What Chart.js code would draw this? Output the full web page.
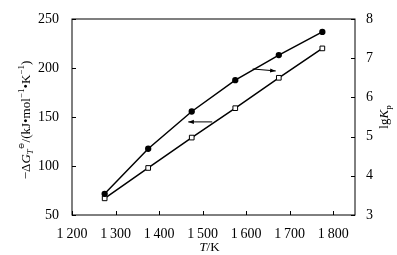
<!DOCTYPE html>
<html lang="en">
<head>
  <meta charset="UTF-8" />
  <title>ΔG and lgKp vs T</title>
  <script src="https://cdn.jsdelivr.net/npm/chart.js"></script>
  <style>
    body { margin: 0; background: #fff; }
    .wrap { width: 397px; height: 255px; position: relative; }
  </style>
</head>
<body>
  <div class="wrap"><canvas id="c"></canvas></div>

  <script>
    // temperatures, K
    const temps = [1275, 1375, 1475, 1575, 1675, 1775];
    // -dG (left axis), open squares
    const dG = [67, 98, 129, 159, 190, 220];
    // lgKp (right axis), filled circles
    const lgKp = [3.54, 4.69, 5.64, 6.44, 7.08, 7.67];

    const xTicks = [1200, 1300, 1400, 1500, 1600, 1700, 1800];
    const leftTicks = [50, 100, 150, 200, 250];
    const rightTicks = [3, 4, 5, 6, 7, 8];

    // arrows: [x0, y0, x1, y1] in data units (left axis)
    const arrowLeft = [1522, 145, 1467, 145];
    const arrowRight = [1615, 199, 1668, 197];

    const serif = '"Liberation Serif", "DejaVu Serif", serif';

    function fmt(v) {
      const s = String(v);
      return s.length > 3 ? s.slice(0, 1) + '\u2009' + s.slice(1) : s;
    }

    function keepTicks(list) {
      return scale => { scale.ticks = list.map(v => ({ value: v })); };
    }

    // rich text (pieces with italic / sub / sup), centered at 0,0
    function drawRich(ctx, parts) {
      let w = 0;
      parts.forEach(p => {
        ctx.font = (p.it ? 'italic ' : '') + (p.size || 13) + 'px ' + serif;
        p.w = ctx.measureText(p.t).width;
        w += p.w;
      });
      let x = -w / 2;
      parts.forEach(p => {
        ctx.font = (p.it ? 'italic ' : '') + (p.size || 13) + 'px ' + serif;
        ctx.fillText(p.t, x, p.dy || 0);
        x += p.w;
      });
    }

    const extras = {
      id: 'extras',
      afterDraw(chart) {
        const { ctx, chartArea: a, scales } = chart;
        const x = scales.x, yl = scales.y, yr = scales.y1;
        ctx.save();
        ctx.strokeStyle = '#000';
        ctx.lineWidth = 1;
        ctx.strokeRect(a.left, a.top, a.right - a.left, a.bottom - a.top);

        // inward tick marks
        ctx.beginPath();
        xTicks.forEach(v => {
          const px = Math.round(x.getPixelForValue(v)) + 0.5;
          ctx.moveTo(px, a.bottom); ctx.lineTo(px, a.bottom - 4);
        });
        leftTicks.forEach(v => {
          const py = Math.round(yl.getPixelForValue(v)) + 0.5;
          ctx.moveTo(a.left, py); ctx.lineTo(a.left + 4, py);
        });
        rightTicks.forEach(v => {
          const py = Math.round(yr.getPixelForValue(v)) + 0.5;
          ctx.moveTo(a.right, py); ctx.lineTo(a.right - 4, py);
        });
        ctx.stroke();

        // arrows
        [arrowLeft, arrowRight].forEach(ar => {
          const x0 = x.getPixelForValue(ar[0]), y0 = yl.getPixelForValue(ar[1]);
          const x1 = x.getPixelForValue(ar[2]), y1 = yl.getPixelForValue(ar[3]);
          ctx.beginPath();
          ctx.moveTo(x0, y0); ctx.lineTo(x1, y1);
          ctx.stroke();
          const ang = Math.atan2(y1 - y0, x1 - x0);
          ctx.beginPath();
          ctx.moveTo(x1, y1);
          ctx.lineTo(x1 - 6 * Math.cos(ang - 0.35), y1 - 6 * Math.sin(ang - 0.35));
          ctx.lineTo(x1 - 6 * Math.cos(ang + 0.35), y1 - 6 * Math.sin(ang + 0.35));
          ctx.closePath();
          ctx.fillStyle = '#000';
          ctx.fill();
        });

        ctx.fillStyle = '#000';
        ctx.textBaseline = 'middle';
        ctx.textAlign = 'left';

        // left title
        ctx.save();
        ctx.translate(27, (a.top + a.bottom) / 2 + 3);
        ctx.rotate(-Math.PI / 2);
        drawRich(ctx, [
          { t: '\u2212\u0394' },
          { t: 'G', it: true },
          { t: 'T', it: true, size: 9, dy: 4 },
          { t: '\u2296', size: 8, dy: -5 },
          { t: '/(kJ\u2022mol' },
          { t: '\u22121', size: 9, dy: -5 },
          { t: '\u2022K' },
          { t: '\u22121', size: 9, dy: -5 },
          { t: ')' }
        ]);
        ctx.restore();

        // right title
        ctx.save();
        ctx.translate(385, (a.top + a.bottom) / 2);
        ctx.rotate(-Math.PI / 2);
        drawRich(ctx, [
          { t: 'lg' },
          { t: 'K', it: true },
          { t: 'p', size: 9, dy: 4 }
        ]);
        ctx.restore();

        // x title
        ctx.save();
        ctx.translate((a.left + a.right) / 2 - 4, 248);
        drawRich(ctx, [
          { t: 'T', it: true },
          { t: '/K' }
        ]);
        ctx.restore();
        ctx.restore();
      }
    };

    new Chart(document.getElementById('c'), {
      type: 'line',
      data: {
        datasets: [
          {
            label: 'lgKp',
            data: temps.map((t, i) => ({ x: t, y: lgKp[i] })),
            yAxisID: 'y1',
            borderColor: '#000',
            borderWidth: 1.5,
            pointStyle: 'circle',
            pointRadius: 2.4,
            pointBackgroundColor: '#000',
            pointBorderColor: '#000',
            tension: 0
          },
          {
            label: 'dG',
            data: temps.map((t, i) => ({ x: t, y: dG[i] })),
            yAxisID: 'y',
            borderColor: '#000',
            borderWidth: 1.5,
            pointStyle: 'rect',
            pointRadius: 3.3,
            pointBackgroundColor: '#fff',
            pointBorderColor: '#000',
            pointBorderWidth: 1,
            tension: 0
          }
        ]
      },
      options: {
        responsive: true,
        maintainAspectRatio: false,
        animation: false,
        layout: { padding: { top: 19, right: 0, bottom: 0, left: 0 } },
        plugins: {
          legend: { display: false },
          tooltip: { enabled: false }
        },
        scales: {
          x: {
            type: 'linear',
            min: 1200, max: 1850,
            afterBuildTicks: keepTicks(xTicks),
            afterFit: s => { s.height = 40; },
            grid: { display: false },
            border: { display: false },
            ticks: {
              color: '#000', padding: 3, maxRotation: 0, autoSkip: false,
              font: { family: serif, size: 14 },
              callback: v => fmt(v)
            }
          },
          y: {
            position: 'left',
            min: 50, max: 250,
            afterBuildTicks: keepTicks(leftTicks),
            afterFit: s => { s.width = 72; },
            grid: { display: false },
            border: { display: false },
            ticks: {
              color: '#000', padding: 5,
              font: { family: serif, size: 14 }
            }
          },
          y1: {
            position: 'right',
            min: 3, max: 8,
            afterBuildTicks: keepTicks(rightTicks),
            afterFit: s => { s.width = 42; },
            grid: { display: false },
            border: { display: false },
            ticks: {
              color: '#000', padding: 3,
              font: { family: serif, size: 14 }
            }
          }
        }
      },
      plugins: [extras]
    });
  </script>
</body>
</html>
